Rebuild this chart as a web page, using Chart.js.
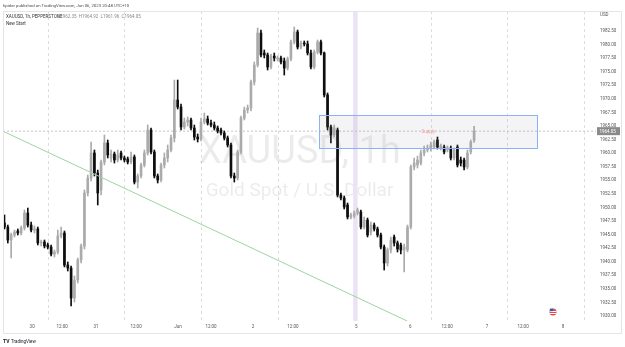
<!DOCTYPE html>
<html>
<head>
<meta charset="utf-8">
<script src="https://cdn.jsdelivr.net/npm/chart.js@4.4.0/dist/chart.umd.min.js"></script>
<style>
  html, body { margin: 0; padding: 0; background: #fff; }
  canvas { display: block; }
</style>
</head>
<body>
<canvas id="chart" width="625" height="347"></canvas>
<script>
// XAUUSD 1h candles (one entry per bar, oldest first)
const opens = [
  1947.13,1946.39,1944.00,1944.92,1945.66,1945.29,1946.21,1948.97,1946.76,1945.84,
  1946.03,1943.45,1943.63,1943.08,1942.71,1941.42,1941.79,1944.74,1945.29,1939.39,
  1938.84,1933.32,1936.63,1940.32,1942.89,1952.66,1955.42,1960.03,1956.34,1953.21,
  1958.37,1961.87,1959.11,1959.84,1958.74,1960.03,1959.11,1958.92,1958.37,1959.29,
  1954.68,1955.79,1957.82,1960.03,1964.26,1960.21,1955.79,1955.05,1957.82,1959.11,
  1960.58,1962.79,1969.79,1968.50,1964.82,1965.74,1966.11,1964.63,1962.97,1962.61,
  1965.74,1966.29,1965.55,1965.18,1964.63,1964.26,1963.71,1962.79,1961.50,1955.79,
  1955.42,1960.21,1966.47,1967.95,1968.32,1973.11,1976.24,1982.13,1978.45,1978.08,
  1975.87,1977.89,1977.34,1977.53,1976.97,1975.68,1977.34,1980.47,1982.32,1979.55,
  1980.29,1980.11,1978.45,1975.87,1978.63,1980.47,1978.45,1970.71,1964.82,1963.34,
  1964.26,1952.29,1951.74,1950.45,1948.24,1948.42,1948.97,1949.16,1946.39,1947.68,
  1945.47,1946.76,1946.03,1944.92,1942.71,1939.76,1942.16,1944.55,1943.45,1943.08,
  1942.16,1942.16,1946.39,1957.45,1957.82,1958.18,1960.03,1960.58,1960.95,1961.13,
  1962.42,1960.95,1961.13,1960.58,1960.95,1959.11,1961.13,1958.74,1958.74,1957.45,
  1960.21,1962.35
];
const highs = [
  1948.61,1946.76,1945.29,1945.84,1946.03,1946.58,1949.53,1949.89,1947.32,1946.58,
  1946.39,1944.00,1944.00,1943.45,1943.08,1942.16,1945.84,1946.39,1945.66,1939.95,
  1939.21,1937.37,1940.68,1943.26,1953.21,1955.97,1962.05,1960.58,1956.89,1958.74,
  1963.34,1962.42,1960.58,1960.21,1960.58,1960.39,1959.47,1959.29,1960.21,1959.66,
  1956.16,1958.18,1960.58,1965.18,1964.63,1960.58,1956.16,1958.18,1960.03,1961.50,
  1963.34,1973.47,1973.47,1969.05,1966.47,1966.66,1966.47,1965.18,1963.53,1966.47,
  1967.39,1966.84,1966.11,1965.74,1965.00,1964.63,1964.08,1963.16,1961.87,1956.34,
  1960.58,1966.84,1968.50,1968.87,1973.47,1976.79,1983.05,1982.68,1979.00,1978.45,
  1978.26,1978.45,1977.89,1977.89,1977.53,1977.71,1980.84,1983.24,1982.68,1980.66,
  1980.66,1980.66,1979.00,1979.00,1980.84,1980.84,1978.63,1971.08,1965.18,1965.18,
  1964.63,1952.66,1952.11,1950.82,1948.97,1949.34,1949.89,1949.53,1948.24,1948.05,
  1947.32,1947.13,1946.39,1945.29,1943.08,1942.53,1944.55,1944.92,1943.82,1943.45,
  1943.26,1946.76,1957.82,1959.11,1959.47,1960.58,1961.32,1961.50,1962.05,1962.42,
  1962.97,1961.68,1961.50,1961.32,1961.32,1960.95,1961.50,1959.29,1959.11,1960.58,
  1962.42,1964.92
];
const lows = [
  1946.03,1943.45,1940.68,1944.55,1944.92,1944.92,1945.84,1946.39,1945.47,1945.29,
  1943.08,1942.89,1942.53,1942.34,1941.05,1940.87,1941.42,1944.37,1939.03,1938.29,
  1931.84,1932.58,1936.08,1939.76,1942.34,1952.11,1954.87,1955.79,1950.45,1952.29,
  1957.82,1959.11,1958.37,1958.18,1958.37,1958.74,1958.37,1958.00,1958.00,1954.32,
  1953.58,1955.42,1957.45,1959.66,1959.84,1955.42,1954.50,1954.68,1957.26,1958.37,
  1960.21,1962.05,1968.13,1964.26,1964.45,1965.00,1964.26,1962.42,1962.05,1962.24,
  1965.37,1965.18,1964.82,1964.26,1963.71,1963.34,1962.42,1961.13,1955.42,1954.68,
  1955.05,1959.84,1966.11,1967.39,1967.76,1972.55,1975.87,1977.71,1977.53,1975.32,
  1975.50,1976.97,1976.97,1976.42,1974.39,1975.32,1976.97,1980.11,1979.18,1979.18,
  1979.74,1978.08,1975.50,1975.50,1978.26,1978.08,1970.34,1964.26,1961.87,1962.97,
  1951.92,1951.37,1949.71,1947.87,1947.87,1948.05,1948.61,1946.03,1946.03,1944.55,
  1944.92,1945.66,1944.55,1942.34,1938.47,1939.21,1941.61,1942.89,1941.79,1941.42,
  1938.11,1941.79,1946.03,1956.89,1957.26,1957.82,1959.47,1960.21,1960.39,1960.76,
  1960.76,1960.58,1959.84,1960.21,1958.74,1958.74,1957.45,1957.63,1956.89,1957.08,
  1959.84,1961.96
];
const closes = [
  1946.39,1944.00,1944.92,1945.47,1945.29,1946.21,1948.97,1946.76,1945.84,1946.03,
  1943.45,1943.63,1942.89,1942.71,1941.42,1941.79,1944.74,1945.29,1939.39,1938.84,
  1933.32,1936.63,1940.32,1942.89,1952.66,1955.42,1960.03,1956.34,1952.66,1958.37,
  1961.87,1959.66,1959.84,1958.74,1959.66,1959.11,1958.74,1958.37,1959.29,1954.68,
  1955.79,1957.82,1960.03,1964.26,1960.21,1955.79,1955.05,1957.82,1959.11,1960.58,
  1962.79,1969.79,1968.50,1964.82,1965.74,1966.11,1964.63,1962.97,1962.61,1965.74,
  1966.29,1965.55,1965.18,1964.63,1964.08,1963.71,1962.79,1961.50,1955.79,1955.42,
  1960.21,1966.47,1967.95,1968.32,1973.11,1976.24,1982.13,1978.08,1978.08,1975.87,
  1977.89,1977.53,1977.53,1976.79,1975.68,1977.34,1980.47,1982.32,1979.55,1980.29,
  1980.11,1978.45,1975.87,1978.63,1980.47,1978.45,1970.71,1964.82,1963.34,1964.63,
  1952.29,1951.74,1950.08,1948.24,1948.61,1948.97,1949.53,1946.39,1947.68,1944.92,
  1946.76,1946.03,1944.92,1942.71,1939.76,1942.16,1944.00,1943.45,1942.34,1942.16,
  1942.71,1946.39,1957.45,1958.18,1958.74,1960.03,1960.58,1960.95,1961.50,1962.05,
  1961.13,1961.32,1960.21,1960.95,1959.11,1960.58,1957.82,1958.18,1957.45,1960.03,
  1962.05,1964.05
];

// time axis: label positions are bar numbers
const timeLabelPos = [8.3, 17.3, 27.5, 39.5, 52.1, 62, 74.6, 86.6, 105.6, 121.8, 132.9, 144.9, 155.7, 167.7];
const timeLabels = ['30', '12:00', '31', '12:00', 'Jun', '12:00', '2', '12:00', '5', '6', '12:00', '7', '12:00', '8'];
const gridPos = [13, 36, 59, 82, 105, 128, 151, 174];

const priceTicks = [1930, 1932.5, 1935, 1937.5, 1940, 1942.5, 1945, 1947.5, 1950, 1952.5, 1955, 1957.5,
  1960, 1962.5, 1965, 1967.5, 1970, 1972.5, 1975, 1977.5, 1980, 1982.5];

// drawings on the chart
const trendLine = [{ x: -0.45, y: 1964.04 }, { x: 120.9, y: 1929.08 }];
const supplyBars = [94.5, 160];
const supplyPrices = [1967.0, 1960.9];
const sessionBreak = 105.35;

const xMin = -0.45, xMax = 177.6;
const yMin = 1929.08, yMax = 1986.0;
const lastClose = closes[closes.length - 1];

const upColor = '#ababab';
const downColor = '#0e0e0e';
const font = 'Roboto, "Liberation Sans", sans-serif';

const bars = closes.map((c, i) => i);
const candleColors = bars.map(i => closes[i] >= opens[i] ? upColor : downColor);

const labelAt = new Map(timeLabelPos.map((p, i) => [p, timeLabels[i]]));

const overlay = {
  id: 'overlay',
  beforeDatasetsDraw(chart) {
    const { ctx, chartArea: a, scales: { x } } = chart;
    ctx.save();
    // vertical grid
    ctx.strokeStyle = '#dcdde3';
    ctx.lineWidth = 1;
    ctx.setLineDash([3, 3]);
    gridPos.forEach(v => {
      const gx = Math.round(x.getPixelForValue(v)) + 0.5;
      ctx.beginPath();
      ctx.moveTo(gx, 11);
      ctx.lineTo(gx, a.bottom);
      ctx.stroke();
    });
    ctx.setLineDash([]);
    // watermark
    ctx.fillStyle = 'rgba(0,0,0,0.08)';
    ctx.textAlign = 'center';
    ctx.textBaseline = 'alphabetic';
    ctx.font = '38px ' + font;
    ctx.fillText('XAUUSD, 1h', (a.left + a.right) / 2, 163);
    ctx.font = '19px ' + font;
    ctx.fillText('Gold Spot / U.S. Dollar', (a.left + a.right) / 2, 196);
    // session break band
    const bx = x.getPixelForValue(sessionBreak);
    ctx.fillStyle = '#ece2f6';
    ctx.fillRect(bx - 2.2, a.top, 4.4, a.bottom - a.top);
    ctx.restore();
  },
  afterDatasetsDraw(chart) {
    const { ctx, scales: { x, y } } = chart;
    const x1 = x.getPixelForValue(supplyBars[0]);
    const x2 = x.getPixelForValue(supplyBars[1]);
    const y1 = y.getPixelForValue(supplyPrices[0]);
    const y2 = y.getPixelForValue(supplyPrices[1]);
    ctx.save();
    ctx.fillStyle = 'rgba(150,150,170,0.10)';
    ctx.fillRect(x1, y1, x2 - x1, y2 - y1);
    ctx.strokeStyle = '#8db0f6';
    ctx.lineWidth = 1;
    ctx.strokeRect(Math.round(x1) + 0.5, Math.round(y1) + 0.5, Math.round(x2 - x1), Math.round(y2 - y1));
    ctx.fillStyle = '#f1a3a3';
    ctx.font = '4.5px ' + font;
    ctx.textAlign = 'center';
    ctx.textBaseline = 'middle';
    ctx.fillText('Supply', (x1 + x2) / 2, (y1 + y2) / 2);
    ctx.restore();
  },
  afterDraw(chart) {
    const { ctx, scales: { y } } = chart;
    ctx.save();
    // frame
    ctx.strokeStyle = '#e3e5ea';
    ctx.lineWidth = 1;
    ctx.strokeRect(3.5, 11.5, 618, 322);
    // header
    ctx.textAlign = 'left';
    ctx.textBaseline = 'middle';
    ctx.fillStyle = '#4a4a4a';
    ctx.font = '4.3px ' + font;
    ctx.fillText('hpider published on TradingView.com, Jun 06, 2023 20:48 UTC+10', 3, 5.5);
    ctx.fillStyle = '#333';
    ctx.font = '4.5px ' + font;
    ctx.fillText('XAUUSD, 1h, PEPPERSTONE', 6, 16.5);
    ctx.fillStyle = '#888';
    ctx.fillText('O1962.35  H1964.92  L1961.96  C1964.05', 57, 16.5);
    ctx.fillStyle = '#333';
    ctx.fillText('New Start', 6, 23.5);
    ctx.fillStyle = '#555';
    ctx.fillText('USD', 600, 15);
    // last price tag
    const py = y.getPixelForValue(lastClose);
    ctx.fillStyle = '#8a8a8a';
    ctx.fillRect(597, py - 4, 23, 8);
    ctx.fillStyle = '#fff';
    ctx.fillText(lastClose.toFixed(2), 599.5, py + 0.5);
    // event flag
    ctx.beginPath();
    ctx.arc(553, 312, 3.6, 0, Math.PI * 2);
    ctx.fillStyle = '#e04b4b';
    ctx.fill();
    ctx.fillStyle = '#fff';
    ctx.fillRect(549.5, 311, 7, 1);
    ctx.fillRect(549.5, 313, 7, 1);
    ctx.fillStyle = '#3b5bb5';
    ctx.fillRect(549.8, 308.6, 3.2, 2.6);
    // footer logo
    ctx.fillStyle = '#131722';
    ctx.font = 'bold 5px ' + font;
    ctx.fillText('TV', 3, 341.5);
    ctx.font = '4.5px ' + font;
    ctx.fillText('TradingView', 11, 341.5);
    ctx.restore();
  }
};

new Chart(document.getElementById('chart'), {
  type: 'bar',
  data: {
    datasets: [
      {
        type: 'line',
        data: trendLine,
        borderColor: '#9fd3a1',
        borderWidth: 1,
        pointRadius: 0,
        order: 0
      },
      {
        label: 'body',
        data: bars.map(i => ({ x: i, y: [opens[i], closes[i]] })),
        backgroundColor: candleColors,
        barThickness: 2,
        minBarLength: 1,
        grouped: false,
        order: 1
      },
      {
        label: 'wick',
        data: bars.map(i => ({ x: i, y: [lows[i], highs[i]] })),
        backgroundColor: candleColors,
        barThickness: 1,
        grouped: false,
        order: 2
      },
      {
        type: 'line',
        data: [{ x: xMin, y: lastClose }, { x: xMax, y: lastClose }],
        borderColor: '#c4c4c4',
        borderWidth: 1,
        borderDash: [2, 2],
        pointRadius: 0,
        order: 3
      }
    ]
  },
  options: {
    responsive: false,
    animation: false,
    devicePixelRatio: 1,
    layout: { autoPadding: false, padding: { top: 12, left: 3, right: 0, bottom: 14 } },
    plugins: { legend: { display: false }, tooltip: { enabled: false } },
    scales: {
      x: {
        type: 'linear',
        min: xMin,
        max: xMax,
        offset: false,
        afterBuildTicks: (axis) => { axis.ticks = timeLabelPos.map(v => ({ value: v })); },
        afterFit: (axis) => { axis.height = 12; },
        ticks: {
          autoSkip: false,
          maxRotation: 0,
          padding: 3,
          color: '#555',
          font: { family: font, size: 4.5 },
          callback: (v) => labelAt.get(v) || ''
        },
        grid: { display: false, drawTicks: false },
        border: { display: false }
      },
      y: {
        position: 'right',
        min: yMin,
        max: yMax,
        afterBuildTicks: (axis) => { axis.ticks = priceTicks.map(v => ({ value: v })); },
        afterFit: (axis) => { axis.width = 29; },
        ticks: {
          padding: 4,
          color: '#555',
          font: { family: font, size: 4.5 },
          callback: (v) => v.toFixed(2)
        },
        grid: { display: false, drawTicks: false },
        border: { display: false }
      }
    }
  },
  plugins: [overlay]
});
</script>
</body>
</html>
